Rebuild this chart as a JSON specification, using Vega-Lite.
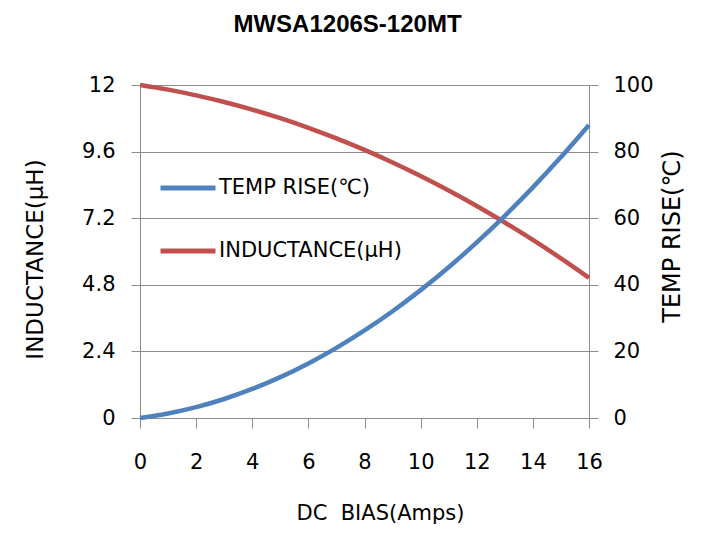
{
  "$schema": "https://vega.github.io/schema/vega-lite/v6.json",
  "width": 449,
  "height": 333,
  "autosize": {"type": "none"},
  "padding": {"left": 140, "top": 85, "right": 119, "bottom": 124},
  "background": "white",
  "config": {"view": {"stroke": null}, "font": "DejaVu Sans"},
  "title": {"text": "MWSA1206S-120MT", "font": "Liberation Sans", "fontSize": 24, "fontWeight": "bold", "color": "#000000", "anchor": "middle", "offset": 37, "dx": -17},
  "data": {"values": [
    {"bias": 0, "temp": 0, "ind": 12},
    {"bias": 1, "temp": 1.35, "ind": 11.832},
    {"bias": 2, "temp": 3.25, "ind": 11.628},
    {"bias": 3, "temp": 5.71, "ind": 11.389},
    {"bias": 4, "temp": 8.72, "ind": 11.114},
    {"bias": 5, "temp": 12.28, "ind": 10.804},
    {"bias": 6, "temp": 16.4, "ind": 10.458},
    {"bias": 7, "temp": 21.07, "ind": 10.077},
    {"bias": 8, "temp": 26.29, "ind": 9.66},
    {"bias": 9, "temp": 32.07, "ind": 9.208},
    {"bias": 10, "temp": 38.4, "ind": 8.721},
    {"bias": 11, "temp": 45.28, "ind": 8.198},
    {"bias": 12, "temp": 52.72, "ind": 7.64},
    {"bias": 13, "temp": 60.71, "ind": 7.046},
    {"bias": 14, "temp": 69.25, "ind": 6.417},
    {"bias": 15, "temp": 78.35, "ind": 5.752},
    {"bias": 16, "temp": 88.0, "ind": 5.052}
  ]},
  "encoding": {
    "x": {"field": "bias", "type": "quantitative", "scale": {"domain": [0, 16], "nice": false},
      "axis": {"title": "DC\u00a0 BIAS(Amps)", "values": [0, 2, 4, 6, 8, 10, 12, 14, 16], "grid": false, "labelFlush": false,
        "domainColor": "#8c8c8c", "tickColor": "#8c8c8c", "tickSize": 10, "labelFont": "DejaVu Sans", "labelFontSize": 21, "labelColor": "#000000", "labelPadding": 23,
        "titleFont": "DejaVu Sans", "titleFontSize": 21, "titleFontWeight": "normal", "titleColor": "#000000", "titlePadding": 30, "titleX": 240}}
  },
  "layer": [
    {"mark": {"type": "line", "strokeWidth": 4.5, "interpolate": "monotone"},
      "encoding": {
        "y": {"field": "ind", "type": "quantitative", "scale": {"domain": [0, 12], "nice": false},
          "axis": {"orient": "left", "title": "INDUCTANCE(μH)", "values": [0, 2.4, 4.8, 7.2, 9.6, 12], "format": "~g", "grid": true, "gridColor": "#8c8c8c", "labelFlush": false,
            "domainColor": "#8c8c8c", "tickColor": "#8c8c8c", "tickSize": 9, "labelFont": "DejaVu Sans", "labelFontSize": 21, "labelColor": "#000000", "labelPadding": 16,
            "titleFont": "DejaVu Sans", "titleFontSize": 23, "titleFontWeight": "normal", "titleColor": "#000000", "titlePadding": 34, "titleY": 174}},
        "color": {"datum": "INDUCTANCE(μH)", "type": "nominal",
          "scale": {"domain": ["TEMP RISE(℃)", "INDUCTANCE(μH)"], "range": ["#4F81BD", "#C0504D"]},
          "legend": {"title": null, "orient": "none", "legendX": 18, "legendY": 73, "symbolType": "stroke", "symbolSize": 3025, "symbolStrokeWidth": 5,
            "labelFont": "DejaVu Sans", "labelFontSize": 21, "labelColor": "#000000", "labelOffset": 1, "rowPadding": 23, "padding": 0, "labelLimit": 400}}
      }},
    {"mark": {"type": "line", "strokeWidth": 4.5, "interpolate": "monotone"},
      "encoding": {
        "y": {"field": "temp", "type": "quantitative", "scale": {"domain": [0, 100], "nice": false},
          "axis": {"orient": "right", "title": "TEMP RISE(℃)", "values": [0, 20, 40, 60, 80, 100], "grid": false, "labelFlush": false,
            "domainColor": "#8c8c8c", "tickColor": "#8c8c8c", "tickSize": 9, "labelFont": "DejaVu Sans", "labelFontSize": 21, "labelColor": "#000000", "labelPadding": 15,
            "titleFont": "DejaVu Sans", "titleFontSize": 24, "titleFontWeight": "normal", "titleColor": "#000000", "titleAngle": 270, "titleBaseline": "top", "titlePadding": 7, "titleY": 151}},
        "color": {"datum": "TEMP RISE(℃)", "type": "nominal"}
      }}
  ],
  "resolve": {"scale": {"y": "independent"}}
}
